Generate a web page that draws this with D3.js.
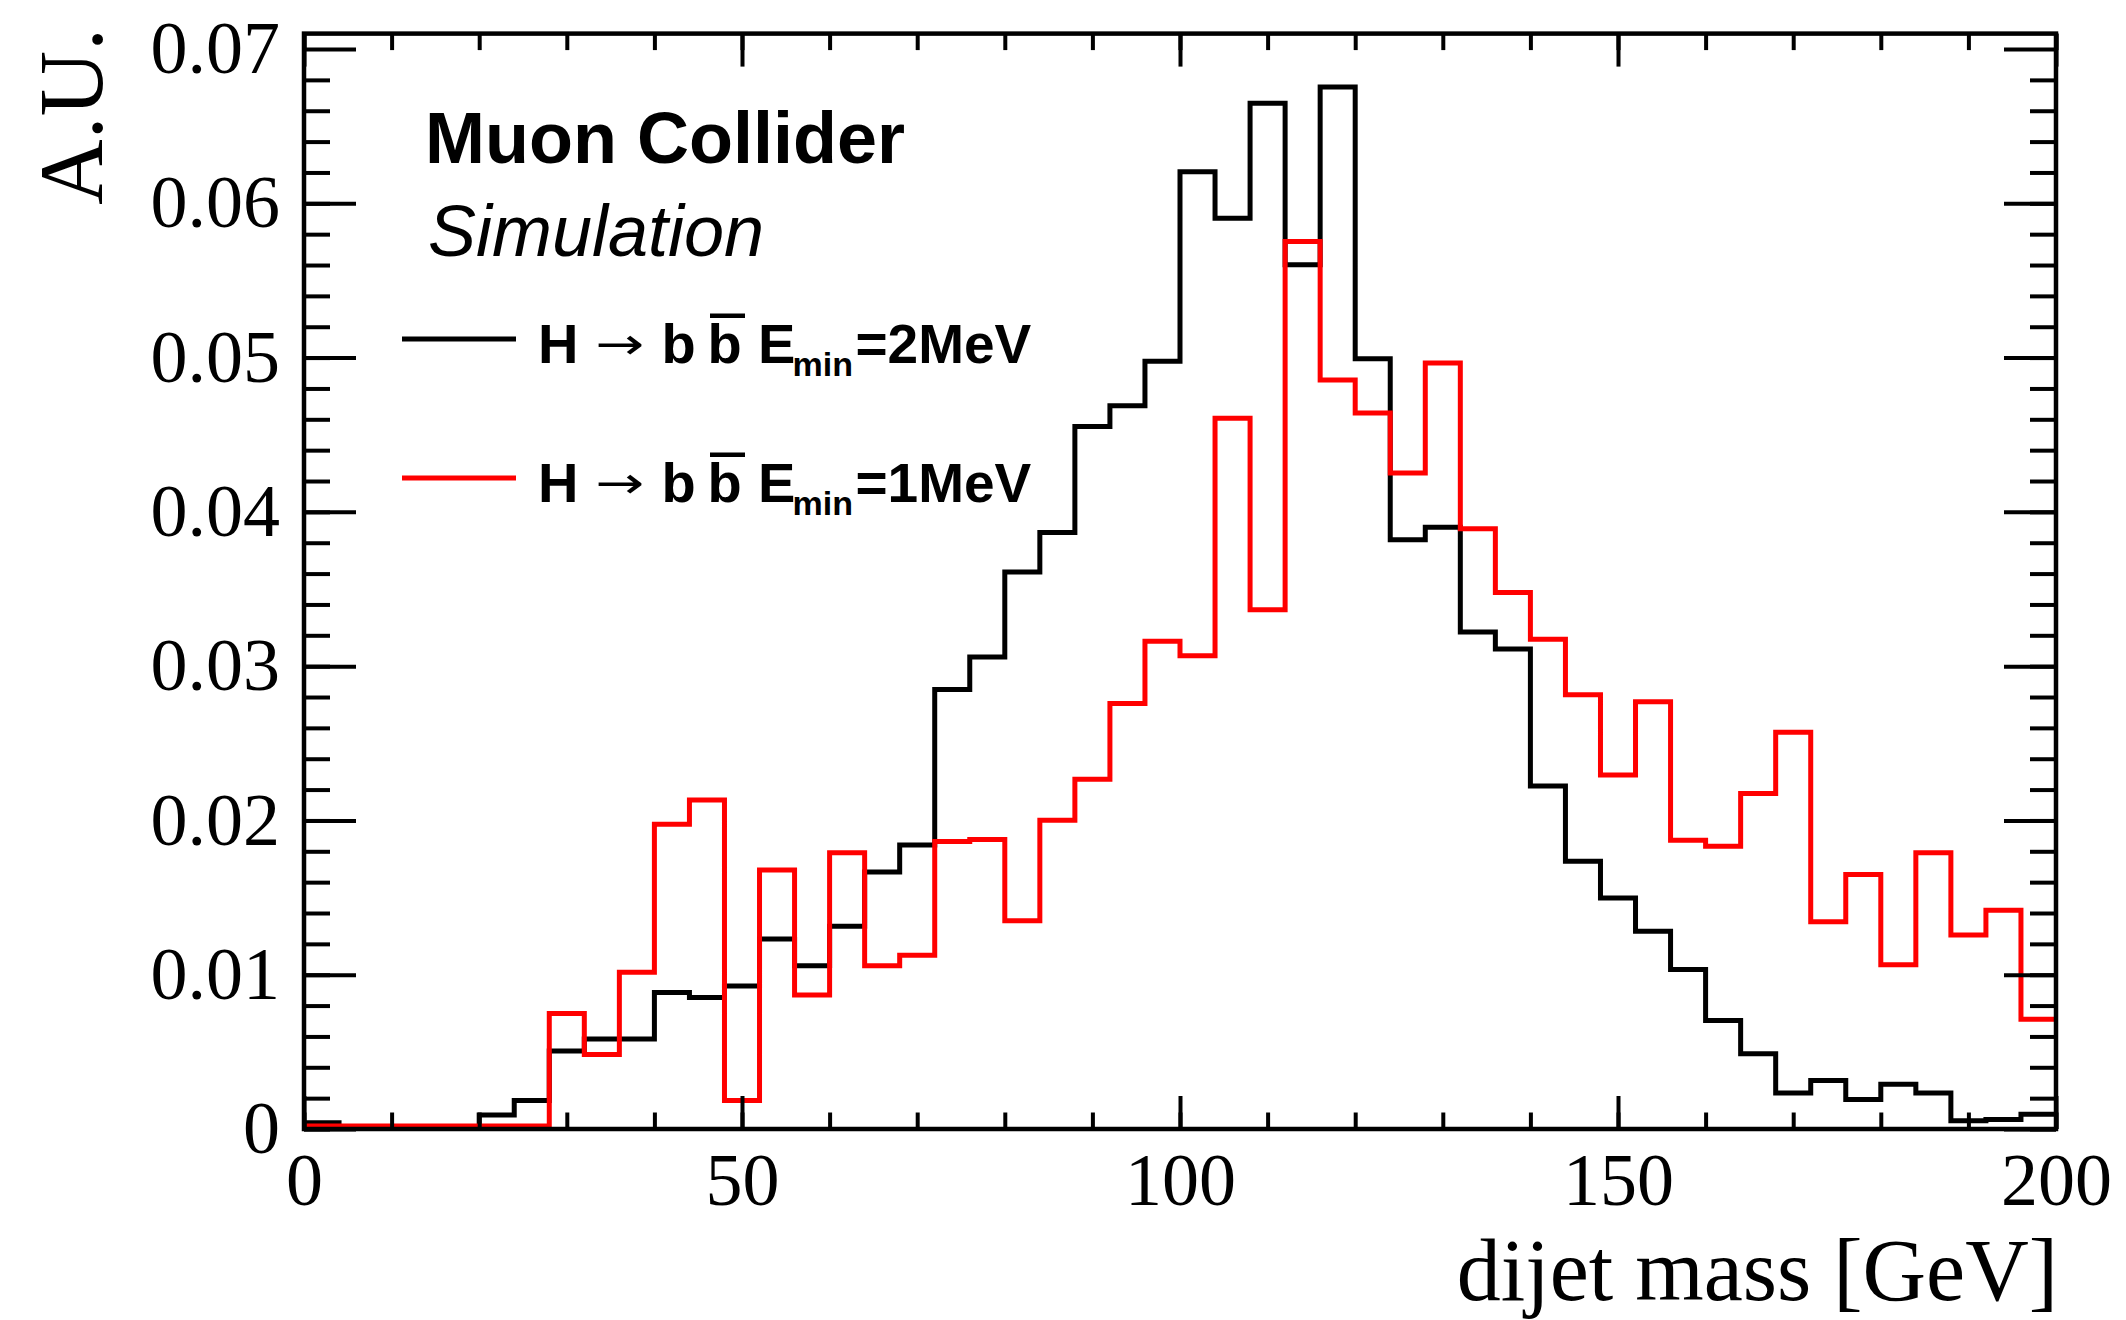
<!DOCTYPE html>
<html><head><meta charset="utf-8">
<script src="https://cdn.jsdelivr.net/npm/d3@7"></script>
<style>html,body{margin:0;padding:0;background:#fff;} svg{display:block;}</style>
</head><body>
<svg id="chart" width="2126" height="1320"></svg>
<script>
// ---- data ----
const binEdges = [0,4,8,12,16,20,24,28,32,36,40,44,48,52,56,60,64,68,72,76,80,84,88,92,96,
  100,104,108,112,116,120,124,128,132,136,140,144,148,152,156,160,164,168,172,176,180,184,188,192,196];
const xUpper = 200;
const emin2Values = [0.0004,0,0,0,0,0.0009,0.00185,0.00506,0.00583,0.00583,
  0.00885,0.00853,0.00927,0.01232,0.01058,0.01314,0.01666,0.0184,0.02849,0.0306,
  0.0361,0.03866,0.04553,0.04688,0.04977,0.06204,0.05903,0.06648,0.05602,0.06754,
  0.04993,0.0382,0.039,0.03222,0.03112,0.02224,0.01736,0.01498,0.01282,0.01034,
  0.00704,0.00488,0.00233,0.00314,0.00191,0.0029,0.00233,0.00054,0.00062,0.00096];
const emin1Values = [0.0002,0.0002,0.0002,0.0002,0.0002,0.0002,0.0002,0.00749,0.00483,0.01016,
  0.01976,0.02132,0.00185,0.01679,0.00868,0.0179,0.01058,0.01126,0.01864,0.01877,
  0.01349,0.02001,0.02267,0.02758,0.03162,0.03068,0.04607,0.03365,0.05752,0.04854,
  0.04641,0.04252,0.04965,0.0389,0.03477,0.03175,0.02815,0.02294,0.0277,0.01872,
  0.01832,0.02175,0.02572,0.01344,0.01649,0.01064,0.0179,0.01257,0.01418,0.00712];
const seriesEmin = ["2MeV", "1MeV"];
const xTickValues = [0,50,100,150,200];
const xTickLabels = ["0","50","100","150","200"];
const yTickValues = [0,0.01,0.02,0.03,0.04,0.05,0.06,0.07];
const yTickLabels = ["0","0.01","0.02","0.03","0.04","0.05","0.06","0.07"];
const xTitle = "dijet mass [GeV]";
const yTitle = "A.U.";

// ---- styles / layout ----
const colors = ["#000000", "#ff0000"];
const L = 304, R = 2056, T = 33.6, B = 1129;
const svg = d3.select("#chart");
svg.append("rect").attr("width",2126).attr("height",1320).attr("fill","#fff");

const x = d3.scaleLinear().domain([0, 200]).range([L, R]);
const y = d3.scaleLinear().domain([0, 0.071]).range([B, T]);

svg.append("clipPath").attr("id","clip").append("rect")
  .attr("x",L).attr("y",T).attr("width",R-L).attr("height",B-T);

// histograms
const line = d3.line().x(d=>x(d[0])).y(d=>y(d[1])).curve(d3.curveStepAfter);
function pts(vals){ const p = binEdges.map((e,i)=>[e, vals[i]]); p.push([xUpper, vals[vals.length-1]]); return p; }
[emin2Values, emin1Values].forEach((vals, i) => {
  svg.append("path").attr("d", line(pts(vals))).attr("fill","none")
    .attr("stroke", colors[i]).attr("stroke-width", 5).attr("stroke-linejoin","miter")
    .attr("clip-path","url(#clip)");
});

// axes
const tickW = 4;
function styleAxis(g){ g.select(".domain").remove(); g.selectAll("line").attr("stroke","#000").attr("stroke-width",tickW);
  g.attr("font-family","'Liberation Serif', 'Times New Roman', serif").attr("font-size",74); g.selectAll("text").attr("fill","#000"); }

const xMinor = d3.range(0, 201, 10);
const yMinor = d3.range(0, 35).map(i => i*0.002);

svg.append("g").attr("transform",`translate(0,${B})`)
  .call(d3.axisBottom(x).tickValues(xMinor).tickSize(-16.5).tickFormat("")).call(styleAxis);
svg.append("g").attr("transform",`translate(0,${B})`)
  .call(d3.axisBottom(x).tickValues(xTickValues).tickSize(-33).tickPadding(23).tickFormat((d,i)=>xTickLabels[i])).call(styleAxis);
svg.append("g").attr("transform",`translate(0,${T})`)
  .call(d3.axisTop(x).tickValues(xMinor).tickSize(-16.5).tickFormat("")).call(styleAxis);
svg.append("g").attr("transform",`translate(0,${T})`)
  .call(d3.axisTop(x).tickValues(xTickValues).tickSize(-33).tickFormat("")).call(styleAxis);

svg.append("g").attr("transform",`translate(${L},0)`)
  .call(d3.axisLeft(y).tickValues(yMinor).tickSize(-26).tickFormat("")).call(styleAxis);
svg.append("g").attr("transform",`translate(${L},0)`)
  .call(d3.axisLeft(y).tickValues(yTickValues).tickSize(-52).tickPadding(24).tickFormat((d,i)=>yTickLabels[i])).call(styleAxis);
svg.append("g").attr("transform",`translate(${R},0)`)
  .call(d3.axisRight(y).tickValues(yMinor).tickSize(-26).tickFormat("")).call(styleAxis);
svg.append("g").attr("transform",`translate(${R},0)`)
  .call(d3.axisRight(y).tickValues(yTickValues).tickSize(-52).tickFormat("")).call(styleAxis);

// frame
svg.append("rect").attr("x",L).attr("y",T).attr("width",R-L).attr("height",B-T)
  .attr("fill","none").attr("stroke","#000").attr("stroke-width",4.5);

// axis titles
svg.append("text").attr("x",2058).attr("y",1300).attr("text-anchor","end")
  .attr("font-family","'Liberation Serif', 'Times New Roman', serif").attr("font-size",88).text(xTitle);
svg.append("text").attr("transform","translate(102,28) rotate(-90)").attr("text-anchor","end")
  .attr("font-family","'Liberation Serif', 'Times New Roman', serif").attr("font-size",91).text(yTitle);

// labels
const sans = "'Liberation Sans', Arial, Helvetica, sans-serif";
svg.append("text").attr("x",425).attr("y",163).attr("font-family",sans).attr("font-weight","bold")
  .attr("font-size",72).text("Muon Collider");
svg.append("text").attr("x",428).attr("y",256).attr("font-family",sans).attr("font-style","italic")
  .attr("font-size",72).text("Simulation");

// legend
const legY = [339, 478];
seriesEmin.forEach((em, i) => {
  const ly = legY[i], by = ly + 24;
  svg.append("line").attr("x1",402).attr("x2",516).attr("y1",ly).attr("y2",ly)
    .attr("stroke",colors[i]).attr("stroke-width",5);
  const t = svg.append("text").attr("y",by).attr("font-family",sans).attr("font-weight","bold").attr("font-size",56).attr("fill","#000");
  t.append("tspan").attr("x",538).text("H");
  t.append("tspan").attr("x",661.5).text("b");
  t.append("tspan").attr("x",707.5).text("b");
  t.append("tspan").attr("x",758).text("E");
  t.append("tspan").attr("x",792.5).attr("dy",13).attr("font-size",34).text("min");
  t.append("tspan").attr("x",855.5).attr("dy",-13).attr("font-size",55).text("=" + em);
  svg.append("text").attr("x",595).attr("y",ly+20).attr("font-family","'DejaVu Sans', sans-serif")
    .attr("font-size",44).attr("textLength",49).attr("lengthAdjust","spacingAndGlyphs").text("\u2192");
  svg.append("line").attr("x1",710).attr("x2",745).attr("y1",ly-23.3).attr("y2",ly-23.3)
    .attr("stroke","#000").attr("stroke-width",4.5);
});
</script>
</body></html>
